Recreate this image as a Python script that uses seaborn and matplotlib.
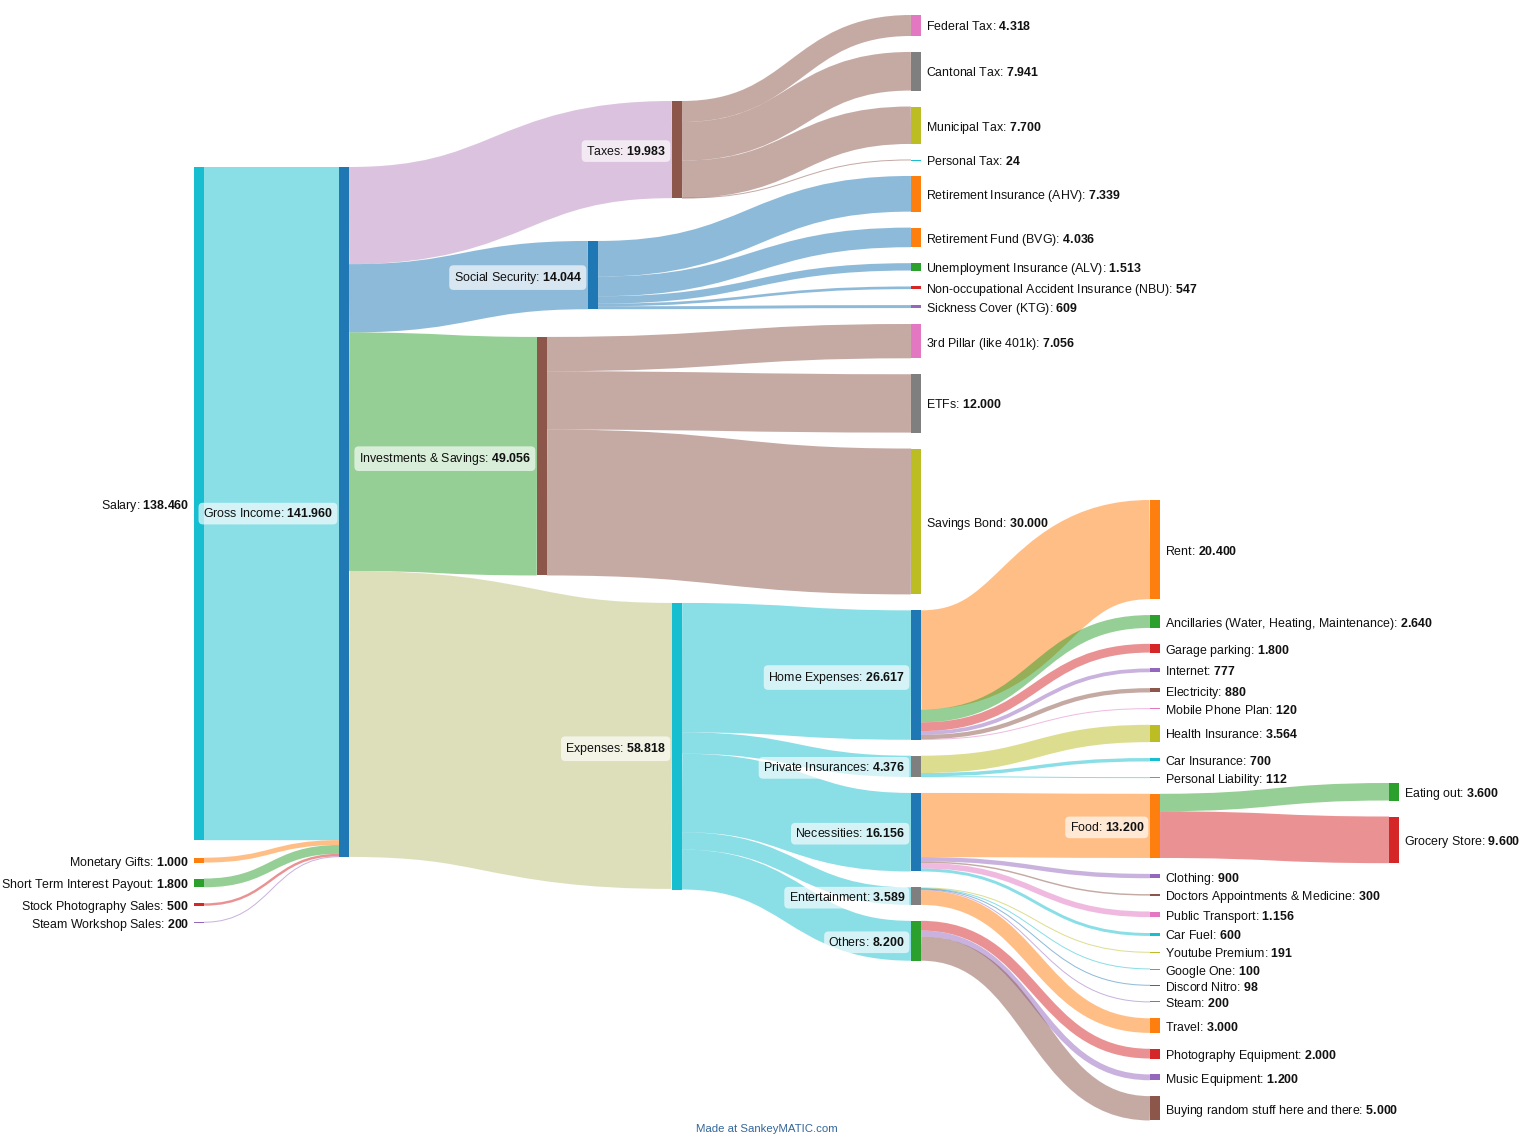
import matplotlib
matplotlib.use("Agg")
import matplotlib.pyplot as plt
from matplotlib.path import Path
from matplotlib.patches import PathPatch, Rectangle
import seaborn as sns

# ------------------------------------------------------------------ data
node_names = [
    "Salary", "Monetary Gifts", "Short Term Interest Payout", "Stock Photography Sales", "Steam Workshop Sales",
    "Gross Income",
    "Taxes", "Social Security", "Investments & Savings", "Expenses",
    "Federal Tax", "Cantonal Tax", "Municipal Tax", "Personal Tax",
    "Retirement Insurance (AHV)", "Retirement Fund (BVG)", "Unemployment Insurance (ALV)",
    "Non-occupational Accident Insurance (NBU)", "Sickness Cover (KTG)",
    "3rd Pillar (like 401k)", "ETFs", "Savings Bond",
    "Home Expenses", "Private Insurances", "Necessities", "Entertainment", "Others",
    "Rent", "Ancillaries (Water, Heating, Maintenance)", "Garage parking", "Internet", "Electricity",
    "Mobile Phone Plan", "Health Insurance", "Car Insurance", "Personal Liability", "Food", "Clothing",
    "Doctors Appointments & Medicine", "Public Transport", "Car Fuel", "Youtube Premium", "Google One",
    "Discord Nitro", "Steam", "Travel", "Photography Equipment", "Music Equipment",
    "Buying random stuff here and there",
    "Eating out", "Grocery Store",
]
node_values = [
    138460, 1000, 1800, 500, 200,
    141960,
    19983, 14044, 49056, 58818,
    4318, 7941, 7700, 24,
    7339, 4036, 1513, 547, 609,
    7056, 12000, 30000,
    26617, 4376, 16156, 3589, 8200,
    20400, 2640, 1800, 777, 880,
    120, 3564, 700, 112, 13200, 900,
    300, 1156, 600, 191, 100,
    98, 200, 3000, 2000, 1200,
    5000,
    3600, 9600,
]
node_colors = [
    "cyan", "orange", "green", "red", "purple",
    "blue",
    "brown", "blue", "brown", "cyan",
    "pink", "gray", "olive", "cyan",
    "orange", "orange", "green", "red", "purple",
    "pink", "gray", "olive",
    "blue", "gray", "blue", "gray", "green",
    "orange", "green", "red", "purple", "brown",
    "pink", "olive", "cyan", "cyan", "orange", "purple",
    "brown", "pink", "cyan", "olive", "cyan",
    "blue", "purple", "orange", "red", "purple",
    "brown",
    "green", "red",
]

flow_sources = (
    ["Salary", "Monetary Gifts", "Short Term Interest Payout", "Stock Photography Sales", "Steam Workshop Sales"]
    + ["Gross Income"] * 4
    + ["Taxes"] * 4
    + ["Social Security"] * 5
    + ["Investments & Savings"] * 3
    + ["Expenses"] * 5
    + ["Home Expenses"] * 6
    + ["Private Insurances"] * 3
    + ["Necessities"] * 5
    + ["Entertainment"] * 5
    + ["Others"] * 3
    + ["Food"] * 2
)
flow_targets = (
    ["Gross Income"] * 5
    + ["Taxes", "Social Security", "Investments & Savings", "Expenses"]
    + ["Federal Tax", "Cantonal Tax", "Municipal Tax", "Personal Tax"]
    + ["Retirement Insurance (AHV)", "Retirement Fund (BVG)", "Unemployment Insurance (ALV)",
       "Non-occupational Accident Insurance (NBU)", "Sickness Cover (KTG)"]
    + ["3rd Pillar (like 401k)", "ETFs", "Savings Bond"]
    + ["Home Expenses", "Private Insurances", "Necessities", "Entertainment", "Others"]
    + ["Rent", "Ancillaries (Water, Heating, Maintenance)", "Garage parking", "Internet", "Electricity",
       "Mobile Phone Plan"]
    + ["Health Insurance", "Car Insurance", "Personal Liability"]
    + ["Food", "Clothing", "Doctors Appointments & Medicine", "Public Transport", "Car Fuel"]
    + ["Youtube Premium", "Google One", "Discord Nitro", "Steam", "Travel"]
    + ["Photography Equipment", "Music Equipment", "Buying random stuff here and there"]
    + ["Eating out", "Grocery Store"]
)
flow_values = (
    [138460, 1000, 1800, 500, 200]
    + [19983, 14044, 49056, 58818]
    + [4318, 7941, 7700, 24]
    + [7339, 4036, 1513, 547, 609]
    + [7056, 12000, 30000]
    + [26617, 4376, 16156, 3589, 8200]
    + [20400, 2640, 1800, 777, 880, 120]
    + [3564, 700, 112]
    + [13200, 900, 300, 1156, 600]
    + [191, 100, 98, 200, 3000]
    + [2000, 1200, 5000]
    + [3600, 9600]
)
flow_colors = (
    ["cyan", "orange", "green", "red", "purple"]
    + ["lavender", "blue", "green", "paleolive"]
    + ["brown"] * 4
    + ["blue"] * 5
    + ["brown"] * 3
    + ["cyan"] * 5
    + ["orange", "green", "red", "purple", "brown", "pink"]
    + ["olive", "cyan", "cyan"]
    + ["orange", "purple", "brown", "pink", "cyan"]
    + ["olive", "cyan", "blue", "purple", "orange"]
    + ["red", "purple", "brown"]
    + ["green", "red"]
)

# ------------------------------------------------------------------ layout (pixels)
W, H = 1536, 1138
K = 4.862 / 1000.0          # px per CHF
NODE_W = 10
columns = [
    dict(nodes=node_names[0:5], x=194, top=167, gaps=[17.5, 16, 16, 16]),
    dict(nodes=node_names[5:6], x=339, top=167, gaps=[]),
    dict(nodes=node_names[6:10], x=[672, 588, 537, 672], top=101, gaps=[42.8, 27.7, 27.5]),
    dict(nodes=node_names[10:27], x=911, top=15, gaps=15.95),
    dict(nodes=node_names[27:49], x=1150, top=500, gaps=15.9),
    dict(nodes=node_names[49:51], x=1389, top=783, gaps=16),
]

# ------------------------------------------------------------------ style
sns.set_theme(style="white")
plt.rcParams["font.family"] = ["Liberation Sans", "DejaVu Sans"]
plt.rcParams["mathtext.fontset"] = "custom"
plt.rcParams["mathtext.rm"] = "Liberation Sans"
plt.rcParams["mathtext.bf"] = "Liberation Sans:bold"

pal = sns.color_palette("tab10")
cmap = dict(zip(["blue", "orange", "green", "red", "purple", "brown", "pink", "gray", "olive", "cyan"], pal))
cmap["lavender"] = "#b987bf"
cmap["paleolive"] = "#bdc177"

val = dict(zip(node_names, node_values))
col = dict(zip(node_names, node_colors))

# node heights: max(in, out)
inflow = {n: 0 for n in node_names}
outflow = {n: 0 for n in node_names}
for s, t, v in zip(flow_sources, flow_targets, flow_values):
    outflow[s] += v
    inflow[t] += v
height = {n: max(val[n], inflow[n], outflow[n]) * K for n in node_names}

# node positions
nx, ny = {}, {}
for c in columns:
    y = c["top"]
    for i, n in enumerate(c["nodes"]):
        nx[n] = c["x"][i] if isinstance(c["x"], list) else c["x"]
        ny[n] = y
        if isinstance(c["gaps"], list):
            g = c["gaps"][i] if i < len(c["gaps"]) else 0
        else:
            g = c["gaps"]
        y += height[n] + g

fig = plt.figure(figsize=(W / 100, H / 100), dpi=100)
ax = fig.add_axes([0, 0, 1, 1])
ax.set_xlim(0, W)
ax.set_ylim(H, 0)
ax.axis("off")

# flow stacking
flows = list(zip(flow_sources, flow_targets, flow_values, flow_colors))
out_off = {n: ny[n] for n in node_names}
in_off = {n: ny[n] for n in node_names}
src_y, tgt_y = {}, {}
for n in node_names:
    outs = sorted([i for i, f in enumerate(flows) if f[0] == n], key=lambda i: ny[flows[i][1]])
    for i in outs:
        h = flows[i][2] * K
        src_y[i] = out_off[n] + h / 2
        out_off[n] += h
    ins = sorted([i for i, f in enumerate(flows) if f[1] == n], key=lambda i: ny[flows[i][0]])
    for i in ins:
        h = flows[i][2] * K
        tgt_y[i] = in_off[n] + h / 2
        in_off[n] += h

px2pt = 72.0 / fig.dpi
for i, (s, t, v, c) in enumerate(flows):
    x0 = nx[s] + NODE_W
    x1 = nx[t]
    xm = (x0 + x1) / 2
    y0, y1 = src_y[i], tgt_y[i]
    path = Path([(x0, y0), (xm, y0), (xm, y1), (x1, y1)],
                [Path.MOVETO, Path.CURVE4, Path.CURVE4, Path.CURVE4])
    lw = max(v * K, 1.0) * px2pt
    ax.add_patch(PathPatch(path, facecolor="none", edgecolor=cmap[c], lw=lw,
                           alpha=0.5, capstyle="butt", zorder=1))

# nodes
for n in node_names:
    ax.add_patch(Rectangle((nx[n], ny[n]), NODE_W, max(height[n], 1.0),
                           facecolor=cmap[col[n]], edgecolor="none", zorder=2))

# labels
FS = 8.9
def fmt(v):
    return f"{v:,}".replace(",", ".")

for n in node_names:
    label = f"{n}: $\\mathbf{{{fmt(val[n])}}}$"
    cy = ny[n] + max(height[n], 1.0) / 2
    if inflow[n] == 0:
        ax.text(nx[n] - 5, cy, label, ha="right", va="center_baseline", fontsize=FS, color="#111111", zorder=3)
    elif outflow[n] == 0:
        ax.text(nx[n] + NODE_W + 5, cy, label, ha="left", va="center_baseline", fontsize=FS, color="#111111", zorder=3)
    else:
        ax.text(nx[n] - 6, cy, label, ha="right", va="center_baseline", fontsize=FS, color="#111111", zorder=3,
                bbox=dict(boxstyle="round,pad=0.35", facecolor="white", edgecolor="none", alpha=0.65))

ax.text(W / 2 - 1, 1129, "Made at SankeyMATIC.com", ha="center", va="center", fontsize=8.2, color="#336699")

fig.savefig("out.png", dpi=100)
